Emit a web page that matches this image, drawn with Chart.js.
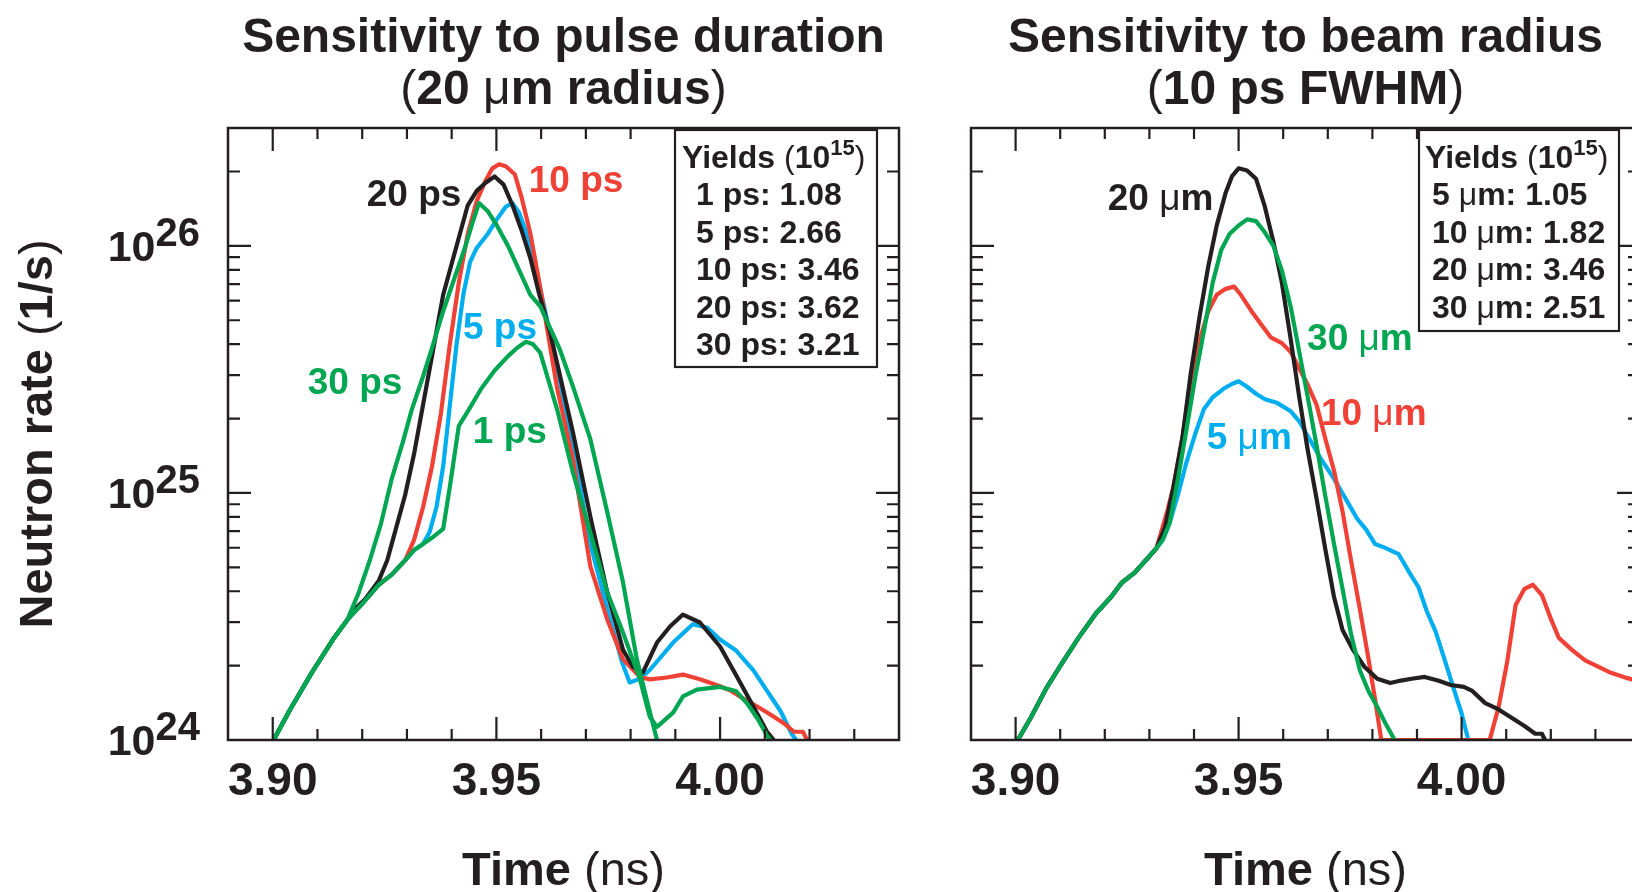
<!DOCTYPE html>
<html>
<head>
<meta charset="utf-8">
<script src="https://cdn.jsdelivr.net/npm/chart.js@4.4.1/dist/chart.umd.min.js"></script>
<style>
  html, body { margin: 0; padding: 0; background: #fff; overflow: hidden; }
  #wrap { position: relative; width: 1632px; height: 892px; overflow: hidden; background: #fff; }
  #left { position: absolute; left: 0; top: 0; }
  #right { position: absolute; left: 935px; top: 0; }
</style>
</head>
<body>
<div id="wrap">
  <canvas id="left" width="935" height="892" style="width:935px;height:892px"></canvas>
  <canvas id="right" width="720" height="892" style="width:720px;height:892px"></canvas>
</div>
<script>
// ---- data: time (ns) and neutron rate (1/s) ----

// left panel: pulse duration, 20 um radius
var t20ps = [3.9002, 3.9037, 3.9087, 3.9137, 3.9167, 3.9187, 3.9207, 3.9237, 3.9256, 3.9276, 3.9296, 3.9316, 3.9336, 3.9356, 3.9381, 3.9406, 3.9436, 3.9456, 3.9476, 3.9496, 3.9516, 3.9536, 3.9556, 3.9576, 3.9596, 3.9620, 3.9671, 3.9710, 3.9748, 3.9783, 3.9805, 3.9827, 3.9859, 3.9888, 3.9917, 3.9955, 4.0000, 4.0035, 4.0075, 4.0105, 4.0120];
var r20ps = [1.0e24, 1.31e24, 1.87e24, 2.59e24, 3.07e24, 3.44e24, 3.72e24, 4.41e24, 5.34e24, 7.24e24, 9.81e24, 1.44e25, 2.27e25, 3.58e25, 6.34e25, 9.27e25, 1.46e26, 1.67e26, 1.80e26, 1.91e26, 1.77e26, 1.46e26, 1.16e26, 8.91e25, 6.34e25, 4.47e25, 1.76e25, 8.02e24, 3.95e24, 2.32e24, 1.98e24, 1.87e24, 2.48e24, 2.88e24, 3.22e24, 2.99e24, 2.39e24, 1.84e24, 1.36e24, 1.08e24, 1.0e24];

var t10ps = [3.9002, 3.9037, 3.9087, 3.9137, 3.9167, 3.9197, 3.9237, 3.9266, 3.9296, 3.9316, 3.9336, 3.9356, 3.9376, 3.9396, 3.9416, 3.9436, 3.9456, 3.9476, 3.9491, 3.9506, 3.9521, 3.9541, 3.9556, 3.9576, 3.9596, 3.9616, 3.9636, 3.9671, 3.9710, 3.9748, 3.9783, 3.9821, 3.9843, 3.9881, 3.9917, 3.9955, 4.0000, 4.0025, 4.0055, 4.0085, 4.0115, 4.0145, 4.0165, 4.0185, 4.0195];
var r10ps = [1.0e24, 1.31e24, 1.87e24, 2.59e24, 3.07e24, 3.51e24, 4.25e24, 4.67e24, 5.34e24, 6.46e24, 8.75e24, 1.28e25, 2.10e25, 4.01e25, 7.10e25, 1.12e26, 1.52e26, 1.84e26, 2.06e26, 2.14e26, 2.10e26, 1.95e26, 1.58e26, 1.12e26, 7.10e25, 4.33e25, 2.64e25, 1.37e25, 5.04e24, 3.07e24, 2.12e24, 1.80e24, 1.76e24, 1.79e24, 1.84e24, 1.76e24, 1.65e24, 1.58e24, 1.46e24, 1.36e24, 1.26e24, 1.16e24, 1.08e24, 1.08e24, 1.0e24];

var t5ps = [3.9002, 3.9037, 3.9087, 3.9137, 3.9167, 3.9197, 3.9237, 3.9266, 3.9296, 3.9316, 3.9336, 3.9351, 3.9366, 3.9381, 3.9396, 3.9411, 3.9426, 3.9441, 3.9456, 3.9481, 3.9501, 3.9521, 3.9536, 3.9551, 3.9571, 3.9591, 3.9611, 3.9636, 3.9671, 3.9710, 3.9748, 3.9781, 3.9798, 3.9821, 3.9843, 3.9895, 3.9939, 3.9971, 4.0000, 4.0035, 4.0075, 4.0105, 4.0135, 4.0160, 4.0170];
var r5ps = [1.0e24, 1.31e24, 1.87e24, 2.59e24, 3.07e24, 3.51e24, 4.25e24, 4.67e24, 5.34e24, 5.87e24, 6.21e24, 6.97e24, 8.75e24, 1.28e25, 2.27e25, 4.01e25, 6.34e25, 8.59e25, 9.81e25, 1.12e26, 1.28e26, 1.44e26, 1.49e26, 1.36e26, 1.08e26, 7.66e25, 5.24e25, 3.19e25, 1.55e25, 6.21e24, 3.38e24, 2.06e24, 1.71e24, 1.77e24, 1.92e24, 2.48e24, 2.94e24, 2.85e24, 2.55e24, 2.31e24, 1.91e24, 1.58e24, 1.31e24, 1.06e24, 1.0e24];

var t1ps = [3.9002, 3.9037, 3.9087, 3.9137, 3.9167, 3.9197, 3.9237, 3.9266, 3.9296, 3.9316, 3.9336, 3.9356, 3.9381, 3.9396, 3.9416, 3.9436, 3.9466, 3.9496, 3.9526, 3.9546, 3.9566, 3.9581, 3.9598, 3.9636, 3.9671, 3.9710, 3.9748, 3.9783, 3.9821, 3.9843, 3.9859, 3.9895, 3.9917, 3.9948, 4.0000, 4.0035, 4.0060, 4.0085, 4.0105, 4.0113];
var r1ps = [1.0e24, 1.31e24, 1.87e24, 2.59e24, 3.07e24, 3.51e24, 4.25e24, 4.67e24, 5.34e24, 5.87e24, 6.21e24, 6.58e24, 7.15e24, 1.06e25, 1.87e25, 2.14e25, 2.64e25, 3.13e25, 3.58e25, 3.86e25, 4.09e25, 4.01e25, 3.70e25, 2.17e25, 1.21e25, 6.91e24, 3.95e24, 2.72e24, 1.76e24, 1.24e24, 1.13e24, 1.29e24, 1.50e24, 1.60e24, 1.64e24, 1.58e24, 1.41e24, 1.21e24, 1.04e24, 1.0e24];

var t30ps = [3.9002, 3.9037, 3.9087, 3.9137, 3.9167, 3.9192, 3.9217, 3.9242, 3.9266, 3.9291, 3.9311, 3.9336, 3.9356, 3.9381, 3.9406, 3.9431, 3.9446, 3.9461, 3.9481, 3.9501, 3.9526, 3.9551, 3.9576, 3.9598, 3.9642, 3.9671, 3.9710, 3.9748, 3.9783, 3.9814, 3.9836, 3.9859];
var r30ps = [1.0e24, 1.31e24, 1.87e24, 2.59e24, 3.07e24, 3.94e24, 5.34e24, 7.52e24, 1.14e25, 1.61e25, 2.18e25, 2.96e25, 3.86e25, 5.44e25, 7.38e25, 1.0e26, 1.23e26, 1.49e26, 1.38e26, 1.21e26, 1.0e26, 7.96e25, 6.34e25, 5.69e25, 3.80e25, 2.70e25, 1.65e25, 8.33e24, 4.35e24, 2.12e24, 1.46e24, 1.0e24];

// right panel: beam radius, 10 ps FWHM (all four share the early rise)
var tRise = [3.9005, 3.9034, 3.9068, 3.9102, 3.9141, 3.9180, 3.9214, 3.9238, 3.9267, 3.9296, 3.9316];
var rRise = [1.0e24, 1.23e24, 1.61e24, 2.02e24, 2.59e24, 3.25e24, 3.79e24, 4.33e24, 4.76e24, 5.44e24, 5.98e24];

var t20um = [3.9335, 3.9354, 3.9374, 3.9393, 3.9413, 3.9432, 3.9451, 3.9471, 3.9485, 3.9500, 3.9519, 3.9539, 3.9558, 3.9578, 3.9597, 3.9617, 3.9636, 3.9655, 3.9675, 3.9694, 3.9714, 3.9733, 3.9757, 3.9782, 3.9811, 3.9840, 3.9864, 3.9888, 3.9917, 3.9947, 3.9976, 4.0005, 4.0024, 4.0053, 4.0083, 4.0112, 4.0141, 4.0165, 4.0180, 4.0187];
var r20um = [7.24e24, 1.06e25, 1.67e25, 3.07e25, 5.24e25, 8.26e25, 1.21e26, 1.64e26, 1.91e26, 2.06e26, 2.02e26, 1.87e26, 1.46e26, 1.04e26, 7.10e25, 4.17e25, 2.44e25, 1.49e25, 9.45e24, 5.98e24, 3.79e24, 2.79e24, 2.31e24, 1.98e24, 1.77e24, 1.70e24, 1.74e24, 1.77e24, 1.80e24, 1.74e24, 1.67e24, 1.64e24, 1.58e24, 1.41e24, 1.33e24, 1.23e24, 1.14e24, 1.06e24, 1.06e24, 1.0e24];

var t30um = [3.9330, 3.9345, 3.9364, 3.9383, 3.9403, 3.9422, 3.9442, 3.9461, 3.9480, 3.9500, 3.9519, 3.9539, 3.9558, 3.9578, 3.9597, 3.9617, 3.9636, 3.9655, 3.9675, 3.9694, 3.9714, 3.9733, 3.9752, 3.9772, 3.9791, 3.9811, 3.9830, 3.9850];
var r30um = [6.46e24, 7.52e24, 1.14e25, 1.80e25, 2.96e25, 4.50e25, 7.10e25, 9.62e25, 1.12e26, 1.21e26, 1.28e26, 1.26e26, 1.14e26, 1.0e26, 7.96e25, 5.65e25, 3.72e25, 2.44e25, 1.55e25, 9.81e24, 6.21e24, 4.09e24, 2.69e24, 1.91e24, 1.58e24, 1.36e24, 1.16e24, 1.0e24];

var t10um = [3.9340, 3.9354, 3.9374, 3.9393, 3.9413, 3.9432, 3.9451, 3.9471, 3.9490, 3.9505, 3.9529, 3.9549, 3.9573, 3.9597, 3.9617, 3.9636, 3.9655, 3.9675, 3.9694, 3.9714, 3.9733, 3.9752, 3.9772, 3.9791, 3.9806, 3.9820, 4.0063, 4.0083, 4.0102, 4.0121, 4.0141, 4.0160, 4.0180, 4.0199, 4.0218, 4.0248, 4.0277, 4.0306, 4.0335, 4.0372, 4.0400];
var r10um = [8.43e24, 1.06e25, 1.67e25, 2.85e25, 4.17e25, 5.44e25, 6.34e25, 6.70e25, 6.84e25, 6.34e25, 5.44e25, 4.85e25, 4.25e25, 4.04e25, 3.72e25, 3.19e25, 2.74e25, 2.27e25, 1.67e25, 1.23e25, 8.43e24, 5.34e24, 3.38e24, 2.14e24, 1.46e24, 1.0e24, 1.0e24, 1.36e24, 2.06e24, 3.51e24, 4.09e24, 4.25e24, 3.86e24, 3.13e24, 2.59e24, 2.31e24, 2.10e24, 1.98e24, 1.87e24, 1.78e24, 1.72e24];

var t5um = [3.9330, 3.9345, 3.9364, 3.9383, 3.9403, 3.9422, 3.9442, 3.9466, 3.9485, 3.9500, 3.9519, 3.9539, 3.9558, 3.9587, 3.9617, 3.9636, 3.9655, 3.9684, 3.9714, 3.9743, 3.9767, 3.9786, 3.9806, 3.9830, 3.9859, 3.9883, 3.9903, 3.9922, 3.9942, 3.9961, 3.9981, 4.0000, 4.0015];
var r5um = [6.46e24, 7.52e24, 9.81e24, 1.33e25, 1.74e25, 2.18e25, 2.44e25, 2.64e25, 2.76e25, 2.83e25, 2.69e25, 2.52e25, 2.40e25, 2.31e25, 2.14e25, 1.95e25, 1.70e25, 1.38e25, 1.14e25, 9.27e24, 7.81e24, 7.10e24, 6.21e24, 5.98e24, 5.65e24, 4.76e24, 4.17e24, 3.32e24, 2.74e24, 2.14e24, 1.64e24, 1.28e24, 1.0e24];

// yields (10^15) in the boxes
var pulseNames = ["1 ps", "5 ps", "10 ps", "20 ps", "30 ps"];
var pulseYields = ["1.08", "2.66", "3.46", "3.62", "3.21"];
var radiusNames = ["5 ", "10 ", "20 ", "30 "];
var radiusYields = ["1.05", "1.82", "3.46", "2.51"];

// axis ticks
var timeLabels = [3.90, 3.95, 4.00];
var rateDecades = [24, 25, 26];

// ---- styles ----
var INK = "#231f20";
var RED = "#ef4136";
var BLUE = "#00aeef";
var GREEN = "#00a651";
var FONT = "'Liberation Sans', Arial, Helvetica, sans-serif";

function series(t, r, color) {
  return {
    data: t.map((x, i) => ({ x: x, y: r[i] })),
    borderColor: color,
    borderWidth: 4.2,
    borderJoinStyle: "round",
    pointRadius: 0,
    fill: false,
    tension: 0,
  };
}

// draw text made of several pieces: [text, kind] with kind b = bold, n = normal, s = superscript
function drawRich(ctx, parts, x, y, size, align) {
  var fontOf = (k) =>
    k === "n" ? "normal " + size + "px " + FONT :
    k === "s" ? "bold " + Math.round(size * 0.68) + "px " + FONT :
    "bold " + size + "px " + FONT;
  var w = 0;
  parts.forEach((p) => { ctx.font = fontOf(p[1]); w += ctx.measureText(p[0]).width; });
  var cx = align === "center" ? x - w / 2 : align === "right" ? x - w : x;
  ctx.textAlign = "left";
  ctx.textBaseline = "alphabetic";
  parts.forEach((p) => {
    ctx.font = fontOf(p[1]);
    ctx.fillText(p[0], cx, p[1] === "s" ? y - size * 0.4 : y);
    cx += ctx.measureText(p[0]).width;
  });
}

// per-chart decorations (frame, inward ticks, texts, yields box)
var decorCfg = {
  left: {
    title: [
      [["Sensitivity to pulse duration", "b"]],
      [["(", "n"], ["20 ", "b"], ["\u03bc", "n"], ["m radius", "b"], [")", "n"]],
    ],
    yLabels: true,
    curveLabels: [
      { parts: [["20 ps", "b"]], color: INK, t: 3.9316, v: 1.64e26 },
      { parts: [["10 ps", "b"]], color: RED, t: 3.9678, v: 1.87e26 },
      { parts: [["5 ps", "b"]], color: BLUE, t: 3.9508, v: 4.74e25 },
      { parts: [["30 ps", "b"]], color: GREEN, t: 3.9184, v: 2.84e25 },
      { parts: [["1 ps", "b"]], color: GREEN, t: 3.9530, v: 1.80e25 },
    ],
    box: {
      inset: 22, w: 202, h: 237, x1: 7, x2: 21,
      lines: pulseNames.map((n, i) => [[n + ": " + pulseYields[i], "b"]]),
    },
  },
  right: {
    title: [
      [["Sensitivity to beam radius", "b"]],
      [["(", "n"], ["10 ps FWHM", "b"], [")", "n"]],
    ],
    yLabels: false,
    curveLabels: [
      { parts: [["20 ", "b"], ["\u03bc", "n"], ["m", "b"]], color: INK, t: 3.9325, v: 1.58e26 },
      { parts: [["30 ", "b"], ["\u03bc", "n"], ["m", "b"]], color: GREEN, t: 3.9772, v: 4.29e25 },
      { parts: [["10 ", "b"], ["\u03bc", "n"], ["m", "b"]], color: RED, t: 3.9803, v: 2.13e25 },
      { parts: [["5 ", "b"], ["\u03bc", "n"], ["m", "b"]], color: BLUE, t: 3.9524, v: 1.70e25 },
    ],
    box: {
      inset: 21, w: 200, h: 201, x1: 6, x2: 13,
      lines: radiusNames.map((n, i) => [[n, "b"], ["\u03bc", "n"], ["m: " + radiusYields[i], "b"]]),
    },
  },
};

var decor = {
  id: "decor",
  afterDraw(chart) {
    var cfg = decorCfg[chart.canvas.id];
    var ctx = chart.ctx;
    var a = chart.chartArea;
    var xs = chart.scales.x;
    var ys = chart.scales.y;
    ctx.save();
    ctx.strokeStyle = INK;
    ctx.fillStyle = INK;
    ctx.lineWidth = 2.2;

    // inward ticks on all four sides
    ctx.beginPath();
    for (var k = 390; k <= 403; k++) {
      var px = xs.getPixelForValue(k / 100);
      var len = k % 5 === 0 ? 23 : 11;
      ctx.moveTo(px, a.bottom); ctx.lineTo(px, a.bottom - len);
      ctx.moveTo(px, a.top); ctx.lineTo(px, a.top + len);
    }
    rateDecades.forEach((e) => {
      for (var m = 1; m <= 9; m++) {
        var v = m * Math.pow(10, e);
        if (v <= ys.min || v >= ys.max) continue;
        var py = ys.getPixelForValue(v);
        var l = m === 1 ? 23 : 12;
        ctx.moveTo(a.left, py); ctx.lineTo(a.left + l, py);
        ctx.moveTo(a.right, py); ctx.lineTo(a.right - l, py);
      }
    });
    ctx.stroke();
    ctx.lineWidth = 2.5;
    ctx.strokeRect(a.left, a.top, a.right - a.left, a.bottom - a.top);

    var cx = (a.left + a.right) / 2;

    // titles
    drawRich(ctx, cfg.title[0], cx, 52, 48, "center");
    drawRich(ctx, cfg.title[1], cx, 104, 48, "center");

    // x axis title
    drawRich(ctx, [["Time ", "b"], ["(ns)", "n"]], cx, 885, 47, "center");

    // y tick labels 10^n and y title
    if (cfg.yLabels) {
      rateDecades.forEach((e) => {
        var py = ys.getPixelForValue(Math.pow(10, e));
        var right = a.left - 28;
        ctx.textAlign = "right";
        ctx.textBaseline = "alphabetic";
        ctx.font = "bold 40px " + FONT;
        var sw = ctx.measureText(String(e)).width;
        ctx.fillText(String(e), right, py);
        ctx.font = "bold 43px " + FONT;
        ctx.fillText("10", right - sw, py + 15);
      });
      ctx.save();
      ctx.translate(52, (a.top + a.bottom) / 2);
      ctx.rotate(-Math.PI / 2);
      drawRich(ctx, [["Neutron rate ", "b"], ["(", "n"], ["1/s", "b"], [")", "n"]], 0, 0, 47, "center");
      ctx.restore();
    }

    // curve labels
    cfg.curveLabels.forEach((lb) => {
      ctx.fillStyle = lb.color;
      drawRich(ctx, lb.parts, xs.getPixelForValue(lb.t), ys.getPixelForValue(lb.v) + 13, 37, "center");
    });

    // yields box
    var b = cfg.box;
    var bx = a.right - b.inset - b.w;
    var by = a.top + 2;
    ctx.lineWidth = 2.2;
    ctx.fillStyle = "#fff";
    ctx.fillRect(bx, by, b.w, b.h);
    ctx.strokeStyle = INK;
    ctx.strokeRect(bx, by, b.w, b.h);
    ctx.fillStyle = INK;
    drawRich(ctx, [["Yields ", "b"], ["(", "n"], ["10", "b"], ["15", "s"], [")", "n"]], bx + b.x1, by + 38, 32, "left");
    b.lines.forEach((ln, i) => {
      drawRich(ctx, ln, bx + b.x2, by + 38 + (i + 1) * 37.4, 32, "left");
    });
    ctx.restore();
  },
};

function makeChart(id, datasets, padRight, yWidth) {
  return new Chart(document.getElementById(id), {
    type: "line",
    data: { datasets: datasets },
    options: {
      responsive: false,
      animation: false,
      events: [],
      layout: { padding: { top: 128, right: padRight, left: 0, bottom: 0 } },
      plugins: {
        legend: { display: false },
        tooltip: { enabled: false },
        title: { display: false },
      },
      scales: {
        x: {
          type: "linear",
          min: 3.89,
          max: 4.04,
          grid: { display: false, drawTicks: false },
          border: { display: false },
          ticks: {
            stepSize: 0.01,
            autoSkip: false,
            maxRotation: 0,
            padding: 15,
            color: INK,
            font: { family: FONT, size: 46, weight: "bold" },
            callback: (v) => {
              var k = Math.round(v * 100);
              return timeLabels.some((l) => Math.round(l * 100) === k) ? (k / 100).toFixed(2) : "";
            },
          },
          afterFit: (s) => { s.height = 152; },
        },
        y: {
          type: "logarithmic",
          min: 1e24,
          max: 3e26,
          grid: { display: false },
          border: { display: false },
          ticks: { display: false },
          afterFit: (s) => { s.width = yWidth; },
        },
      },
    },
    plugins: [decor],
  });
}

// first dataset is drawn on top
var leftChart = makeChart("left", [
  series(t30ps, r30ps, GREEN),
  series(t1ps, r1ps, GREEN),
  series(t20ps, r20ps, INK),
  series(t10ps, r10ps, RED),
  series(t5ps, r5ps, BLUE),
], 36, 228);

var rightChart = makeChart("right", [
  series(tRise.concat(t30um), rRise.concat(r30um), GREEN),
  series(tRise.concat(t20um), rRise.concat(r20um), INK),
  series(tRise.concat(t10um), rRise.concat(r10um), RED),
  series(tRise.concat(t5um), rRise.concat(r5um), BLUE),
], 13, 36);
</script>
</body>
</html>
